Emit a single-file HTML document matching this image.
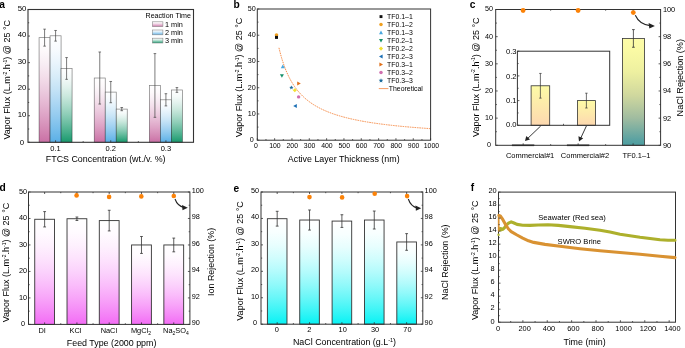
<!DOCTYPE html>
<html><head><meta charset="utf-8"><style>
html,body{margin:0;padding:0;background:#fff;width:685px;height:348px;overflow:hidden}
svg{display:block;will-change:transform}
text{font-family:"Liberation Sans", sans-serif}
</style></head><body>
<svg width="685" height="348" viewBox="0 0 685 348" font-family='"Liberation Sans", sans-serif'>
<defs><linearGradient id="g1" x1="0" y1="0" x2="0" y2="1"><stop offset="0.000" stop-color="#ffffff"/><stop offset="0.125" stop-color="#fdf9fb"/><stop offset="0.250" stop-color="#f8edf4"/><stop offset="0.375" stop-color="#f3deea"/><stop offset="0.500" stop-color="#ecccdf"/><stop offset="0.625" stop-color="#e5b8d3"/><stop offset="0.750" stop-color="#dda2c5"/><stop offset="0.875" stop-color="#d48ab5"/><stop offset="1.000" stop-color="#ca70a5"/></linearGradient><linearGradient id="g2" x1="0" y1="0" x2="0" y2="1"><stop offset="0.000" stop-color="#ffffff"/><stop offset="0.125" stop-color="#f8fbfe"/><stop offset="0.250" stop-color="#eaf5fc"/><stop offset="0.375" stop-color="#d9edf9"/><stop offset="0.500" stop-color="#c5e3f6"/><stop offset="0.625" stop-color="#add7f3"/><stop offset="0.750" stop-color="#94cbef"/><stop offset="0.875" stop-color="#78beeb"/><stop offset="1.000" stop-color="#5aafe6"/></linearGradient><linearGradient id="g3" x1="0" y1="0" x2="0" y2="1"><stop offset="0.000" stop-color="#ffffff"/><stop offset="0.125" stop-color="#f5faf9"/><stop offset="0.250" stop-color="#e2f2ed"/><stop offset="0.375" stop-color="#cae8dd"/><stop offset="0.500" stop-color="#addbcb"/><stop offset="0.625" stop-color="#8dcdb7"/><stop offset="0.750" stop-color="#69bda0"/><stop offset="0.875" stop-color="#42ac88"/><stop offset="1.000" stop-color="#18996d"/></linearGradient><linearGradient id="g4" x1="0" y1="0" x2="0" y2="1"><stop offset="0" stop-color="#fdfca8"/><stop offset="0.11" stop-color="#fafaa4"/><stop offset="0.31" stop-color="#eef0a0"/><stop offset="0.53" stop-color="#d0d89e"/><stop offset="0.745" stop-color="#a0bca0"/><stop offset="0.95" stop-color="#5aa2a2"/><stop offset="1" stop-color="#4c9ea0"/></linearGradient><linearGradient id="g5" x1="0" y1="0" x2="0" y2="1"><stop offset="0" stop-color="#fdfba6"/><stop offset="1" stop-color="#fdd8b0"/></linearGradient><linearGradient id="g6" x1="0" y1="0" x2="0" y2="1"><stop offset="0.000" stop-color="#ffffff"/><stop offset="0.125" stop-color="#fffbff"/><stop offset="0.250" stop-color="#fef1fe"/><stop offset="0.375" stop-color="#fde3fd"/><stop offset="0.500" stop-color="#fbd2fc"/><stop offset="0.625" stop-color="#fabdfb"/><stop offset="0.750" stop-color="#f8a5f9"/><stop offset="0.875" stop-color="#f58af7"/><stop offset="1.000" stop-color="#f36cf5"/></linearGradient><linearGradient id="g7" x1="0" y1="0" x2="0" y2="1"><stop offset="0.000" stop-color="#ffffff"/><stop offset="0.125" stop-color="#f8ffff"/><stop offset="0.250" stop-color="#e8fefe"/><stop offset="0.375" stop-color="#d0fdfd"/><stop offset="0.500" stop-color="#b3fbfc"/><stop offset="0.625" stop-color="#90f9fa"/><stop offset="0.750" stop-color="#68f7f8"/><stop offset="0.875" stop-color="#3af5f6"/><stop offset="1.000" stop-color="#08f2f4"/></linearGradient></defs>
<rect width="685" height="348" fill="#fff"/>
<text x="-0.70" y="8.00" font-size="10.2" text-anchor="start" fill="#000" font-weight="bold">a</text>
<rect x="39.08" y="37.65" width="11.00" height="104.65" fill="url(#g1)" stroke="rgba(0,0,0,0.5)" stroke-width="0.7"/>
<rect x="50.08" y="35.79" width="11.00" height="106.51" fill="url(#g2)" stroke="rgba(0,0,0,0.5)" stroke-width="0.7"/>
<rect x="61.08" y="68.46" width="11.00" height="73.84" fill="url(#g3)" stroke="rgba(0,0,0,0.5)" stroke-width="0.7"/>
<line x1="44.58" y1="29.15" x2="44.58" y2="46.15" stroke="#444" stroke-width="0.7"/>
<line x1="43.28" y1="29.15" x2="45.88" y2="29.15" stroke="#444" stroke-width="0.7"/>
<line x1="43.28" y1="46.15" x2="45.88" y2="46.15" stroke="#444" stroke-width="0.7"/>
<line x1="55.58" y1="30.48" x2="55.58" y2="41.11" stroke="#444" stroke-width="0.7"/>
<line x1="54.28" y1="30.48" x2="56.88" y2="30.48" stroke="#444" stroke-width="0.7"/>
<line x1="54.28" y1="41.11" x2="56.88" y2="41.11" stroke="#444" stroke-width="0.7"/>
<line x1="66.58" y1="57.57" x2="66.58" y2="79.35" stroke="#444" stroke-width="0.7"/>
<line x1="65.28" y1="57.57" x2="67.88" y2="57.57" stroke="#444" stroke-width="0.7"/>
<line x1="65.28" y1="79.35" x2="67.88" y2="79.35" stroke="#444" stroke-width="0.7"/>
<rect x="94.25" y="78.02" width="11.00" height="64.28" fill="url(#g1)" stroke="rgba(0,0,0,0.5)" stroke-width="0.7"/>
<rect x="105.25" y="92.10" width="11.00" height="50.20" fill="url(#g2)" stroke="rgba(0,0,0,0.5)" stroke-width="0.7"/>
<rect x="116.25" y="109.10" width="11.00" height="33.20" fill="url(#g3)" stroke="rgba(0,0,0,0.5)" stroke-width="0.7"/>
<line x1="99.75" y1="52.00" x2="99.75" y2="104.05" stroke="#444" stroke-width="0.7"/>
<line x1="98.45" y1="52.00" x2="101.05" y2="52.00" stroke="#444" stroke-width="0.7"/>
<line x1="98.45" y1="104.05" x2="101.05" y2="104.05" stroke="#444" stroke-width="0.7"/>
<line x1="110.75" y1="81.48" x2="110.75" y2="102.73" stroke="#444" stroke-width="0.7"/>
<line x1="109.45" y1="81.48" x2="112.05" y2="81.48" stroke="#444" stroke-width="0.7"/>
<line x1="109.45" y1="102.73" x2="112.05" y2="102.73" stroke="#444" stroke-width="0.7"/>
<line x1="121.75" y1="107.51" x2="121.75" y2="110.69" stroke="#444" stroke-width="0.7"/>
<line x1="120.45" y1="107.51" x2="123.05" y2="107.51" stroke="#444" stroke-width="0.7"/>
<line x1="120.45" y1="110.69" x2="123.05" y2="110.69" stroke="#444" stroke-width="0.7"/>
<rect x="149.42" y="85.46" width="11.00" height="56.84" fill="url(#g1)" stroke="rgba(0,0,0,0.5)" stroke-width="0.7"/>
<rect x="160.42" y="99.80" width="11.00" height="42.50" fill="url(#g2)" stroke="rgba(0,0,0,0.5)" stroke-width="0.7"/>
<rect x="171.42" y="89.98" width="11.00" height="52.32" fill="url(#g3)" stroke="rgba(0,0,0,0.5)" stroke-width="0.7"/>
<line x1="154.92" y1="53.59" x2="154.92" y2="117.33" stroke="#444" stroke-width="0.7"/>
<line x1="153.62" y1="53.59" x2="156.22" y2="53.59" stroke="#444" stroke-width="0.7"/>
<line x1="153.62" y1="117.33" x2="156.22" y2="117.33" stroke="#444" stroke-width="0.7"/>
<line x1="165.92" y1="93.70" x2="165.92" y2="105.91" stroke="#444" stroke-width="0.7"/>
<line x1="164.62" y1="93.70" x2="167.22" y2="93.70" stroke="#444" stroke-width="0.7"/>
<line x1="164.62" y1="105.91" x2="167.22" y2="105.91" stroke="#444" stroke-width="0.7"/>
<line x1="176.92" y1="87.59" x2="176.92" y2="92.37" stroke="#444" stroke-width="0.7"/>
<line x1="175.62" y1="87.59" x2="178.22" y2="87.59" stroke="#444" stroke-width="0.7"/>
<line x1="175.62" y1="92.37" x2="178.22" y2="92.37" stroke="#444" stroke-width="0.7"/>
<rect x="28.00" y="9.50" width="165.50" height="132.80" fill="none" stroke="#333333" stroke-width="1.1"/>
<line x1="28.00" y1="142.30" x2="30.00" y2="142.30" stroke="#333333" stroke-width="0.8"/>
<text x="22.00" y="144.60" font-size="7.8" text-anchor="middle" fill="#000">0</text>
<line x1="28.00" y1="115.74" x2="30.00" y2="115.74" stroke="#333333" stroke-width="0.8"/>
<text x="22.00" y="117.04" font-size="7.8" text-anchor="middle" fill="#000">10</text>
<line x1="28.00" y1="89.18" x2="30.00" y2="89.18" stroke="#333333" stroke-width="0.8"/>
<text x="22.00" y="90.48" font-size="7.8" text-anchor="middle" fill="#000">20</text>
<line x1="28.00" y1="62.62" x2="30.00" y2="62.62" stroke="#333333" stroke-width="0.8"/>
<text x="22.00" y="63.92" font-size="7.8" text-anchor="middle" fill="#000">30</text>
<line x1="28.00" y1="36.06" x2="30.00" y2="36.06" stroke="#333333" stroke-width="0.8"/>
<text x="22.00" y="37.36" font-size="7.8" text-anchor="middle" fill="#000">40</text>
<line x1="28.00" y1="9.50" x2="30.00" y2="9.50" stroke="#333333" stroke-width="0.8"/>
<text x="22.00" y="10.80" font-size="7.8" text-anchor="middle" fill="#000">50</text>
<line x1="28.00" y1="129.02" x2="29.20" y2="129.02" stroke="#333333" stroke-width="0.8"/>
<line x1="28.00" y1="102.46" x2="29.20" y2="102.46" stroke="#333333" stroke-width="0.8"/>
<line x1="28.00" y1="75.90" x2="29.20" y2="75.90" stroke="#333333" stroke-width="0.8"/>
<line x1="28.00" y1="49.34" x2="29.20" y2="49.34" stroke="#333333" stroke-width="0.8"/>
<line x1="28.00" y1="22.78" x2="29.20" y2="22.78" stroke="#333333" stroke-width="0.8"/>
<line x1="55.58" y1="142.30" x2="55.58" y2="140.30" stroke="#333333" stroke-width="0.8"/>
<text x="55.58" y="151.20" font-size="7.5" text-anchor="middle" fill="#000">0.1</text>
<line x1="110.75" y1="142.30" x2="110.75" y2="140.30" stroke="#333333" stroke-width="0.8"/>
<text x="110.75" y="151.20" font-size="7.5" text-anchor="middle" fill="#000">0.2</text>
<line x1="165.92" y1="142.30" x2="165.92" y2="140.30" stroke="#333333" stroke-width="0.8"/>
<text x="165.92" y="151.20" font-size="7.5" text-anchor="middle" fill="#000">0.3</text>
<line x1="83.17" y1="142.30" x2="83.17" y2="141.10" stroke="#333333" stroke-width="0.8"/>
<line x1="138.33" y1="142.30" x2="138.33" y2="141.10" stroke="#333333" stroke-width="0.8"/>
<text x="105.65" y="161.60" font-size="8.9" text-anchor="middle" fill="#000">FTCS Concentration (wt./v. %)</text>
<text x="10.40" y="139.50" font-size="9.0" text-anchor="start" fill="#000" transform="rotate(-90 10.4 139.5)">Vapor Flux (L.m<tspan font-size="5" dy="-3.2">-2</tspan><tspan dy="3.2">.h</tspan><tspan font-size="5" dy="-3.2">-1</tspan><tspan dy="3.2">) @ 25 °C</tspan></text>
<text x="190.90" y="17.60" font-size="7.1" text-anchor="end" fill="#000">Reaction Time</text>
<rect x="152.3" y="21.80" width="10.6" height="4.8" fill="url(#g1)" stroke="#8a8a8a" stroke-width="0.6"/>
<text x="165.00" y="26.70" font-size="7.3" text-anchor="start" fill="#000">1 min</text>
<rect x="152.3" y="30.00" width="10.6" height="4.8" fill="url(#g2)" stroke="#8a8a8a" stroke-width="0.6"/>
<text x="165.00" y="34.90" font-size="7.3" text-anchor="start" fill="#000">2 min</text>
<rect x="152.3" y="38.20" width="10.6" height="4.8" fill="url(#g3)" stroke="#8a8a8a" stroke-width="0.6"/>
<text x="165.00" y="43.10" font-size="7.3" text-anchor="start" fill="#000">3 min</text>
<text x="233.60" y="7.90" font-size="10.2" text-anchor="start" fill="#000" font-weight="bold">b</text>
<polyline points="278.96,47.84 279.83,51.39 280.70,54.68 281.56,57.73 282.43,60.58 283.30,63.23 284.16,65.71 285.03,68.04 285.89,70.23 286.76,72.28 287.63,74.23 288.49,76.06 289.36,77.79 290.23,79.43 291.09,80.99 291.96,82.47 292.83,83.88 293.69,85.22 294.56,86.50 295.43,87.72 296.29,88.89 297.16,90.00 298.03,91.07 298.89,92.09 299.76,93.08 300.62,94.02 301.49,94.92 302.36,95.79 303.22,96.63 304.09,97.44 304.96,98.22 305.82,98.97 306.69,99.69 307.56,100.39 308.42,101.06 309.29,101.71 310.16,102.35 311.02,102.96 311.89,103.55 312.76,104.12 313.62,104.68 314.49,105.21 315.36,105.74 316.22,106.24 317.09,106.73 317.96,107.21 318.82,107.68 319.69,108.13 320.55,108.57 321.42,109.00 322.29,109.41 323.15,109.82 324.02,110.21 324.89,110.60 325.75,110.97 326.62,111.34 327.49,111.69 328.35,112.04 329.22,112.38 330.09,112.71 330.95,113.03 331.82,113.35 332.69,113.66 333.55,113.96 334.42,114.25 335.29,114.54 336.15,114.83 337.02,115.10 337.88,115.37 338.75,115.63 339.62,115.89 340.48,116.15 341.35,116.39 342.22,116.64 343.08,116.88 343.95,117.11 344.82,117.34 345.68,117.56 346.55,117.78 347.42,118.00 348.28,118.21 349.15,118.42 350.02,118.62 350.88,118.82 351.75,119.02 352.62,119.21 353.48,119.40 354.35,119.58 355.21,119.77 356.08,119.94 356.95,120.12 357.81,120.29 358.68,120.46 359.55,120.63 360.41,120.80 361.28,120.96 362.15,121.12 363.01,121.27 363.88,121.43 364.75,121.58 365.61,121.73 366.48,121.87 367.35,122.02 368.21,122.16 369.08,122.30 369.95,122.44 370.81,122.57 371.68,122.71 372.54,122.84 373.41,122.97 374.28,123.10 375.14,123.22 376.01,123.35 376.88,123.47 377.74,123.59 378.61,123.71 379.48,123.82 380.34,123.94 381.21,124.05 382.08,124.16 382.94,124.28 383.81,124.38 384.68,124.49 385.54,124.60 386.41,124.70 387.28,124.81 388.14,124.91 389.01,125.01 389.87,125.11 390.74,125.21 391.61,125.30 392.47,125.40 393.34,125.49 394.21,125.59 395.07,125.68 395.94,125.77 396.81,125.86 397.67,125.95 398.54,126.03 399.41,126.12 400.27,126.21 401.14,126.29 402.01,126.37 402.87,126.46 403.74,126.54 404.61,126.62 405.47,126.70 406.34,126.77 407.20,126.85 408.07,126.93 408.94,127.01 409.80,127.08 410.67,127.15 411.54,127.23 412.40,127.30 413.27,127.37 414.14,127.44 415.00,127.51 415.87,127.58 416.74,127.65 417.60,127.72 418.47,127.79 419.34,127.85 420.20,127.92 421.07,127.98 421.94,128.05 422.80,128.11 423.67,128.17 424.53,128.24 425.40,128.30 426.27,128.36 427.13,128.42 428.00,128.48 428.87,128.54 429.73,128.60 430.60,128.65" fill="none" stroke="#f4823a" stroke-width="0.9" stroke-dasharray="1.6 0.8"/>
<circle cx="276.50" cy="35.00" r="1.8" fill="#f0a020"/>
<rect x="275.00" y="35.90" width="3.0" height="3.0" fill="#111111"/>
<polygon points="282.80,64.60 280.80,68.20 284.80,68.20" fill="#4aa8e0"/>
<polygon points="281.90,77.80 279.90,74.20 283.90,74.20" fill="#17906a"/>
<polygon points="300.80,83.60 297.20,81.60 297.20,85.60" fill="#e0701a"/>
<polygon points="291.40,85.40 291.98,86.80 293.49,86.92 292.34,87.91 292.69,89.38 291.40,88.59 290.11,89.38 290.46,87.91 289.31,86.92 290.82,86.80" fill="#1a6a9a"/>
<polygon points="294.8,88.2 296.8,90.2 294.8,92.2 292.8,90.2" fill="#f2e030"/>
<circle cx="298.60" cy="96.90" r="1.7" fill="#d070b0"/>
<polygon points="293.20,106.00 296.80,104.00 296.80,108.00" fill="#1a6fb5"/>
<rect x="257.30" y="9.00" width="173.30" height="131.20" fill="none" stroke="#333333" stroke-width="1.0"/>
<line x1="257.30" y1="140.20" x2="259.30" y2="140.20" stroke="#333333" stroke-width="0.8"/>
<text x="251.80" y="142.10" font-size="7.2" text-anchor="middle" fill="#000">0</text>
<line x1="257.30" y1="113.96" x2="259.30" y2="113.96" stroke="#333333" stroke-width="0.8"/>
<text x="251.80" y="115.86" font-size="7.2" text-anchor="middle" fill="#000">10</text>
<line x1="257.30" y1="87.72" x2="259.30" y2="87.72" stroke="#333333" stroke-width="0.8"/>
<text x="251.80" y="89.62" font-size="7.2" text-anchor="middle" fill="#000">20</text>
<line x1="257.30" y1="61.48" x2="259.30" y2="61.48" stroke="#333333" stroke-width="0.8"/>
<text x="251.80" y="63.38" font-size="7.2" text-anchor="middle" fill="#000">30</text>
<line x1="257.30" y1="35.24" x2="259.30" y2="35.24" stroke="#333333" stroke-width="0.8"/>
<text x="251.80" y="37.14" font-size="7.2" text-anchor="middle" fill="#000">40</text>
<line x1="257.30" y1="9.00" x2="259.30" y2="9.00" stroke="#333333" stroke-width="0.8"/>
<text x="251.80" y="10.90" font-size="7.2" text-anchor="middle" fill="#000">50</text>
<line x1="257.30" y1="127.08" x2="258.50" y2="127.08" stroke="#333333" stroke-width="0.8"/>
<line x1="257.30" y1="100.84" x2="258.50" y2="100.84" stroke="#333333" stroke-width="0.8"/>
<line x1="257.30" y1="74.60" x2="258.50" y2="74.60" stroke="#333333" stroke-width="0.8"/>
<line x1="257.30" y1="48.36" x2="258.50" y2="48.36" stroke="#333333" stroke-width="0.8"/>
<line x1="257.30" y1="22.12" x2="258.50" y2="22.12" stroke="#333333" stroke-width="0.8"/>
<line x1="257.30" y1="140.20" x2="257.30" y2="138.20" stroke="#333333" stroke-width="0.8"/>
<text x="256.00" y="147.90" font-size="6.9" text-anchor="middle" fill="#000">0</text>
<line x1="274.63" y1="140.20" x2="274.63" y2="138.20" stroke="#333333" stroke-width="0.8"/>
<text x="274.93" y="147.90" font-size="6.9" text-anchor="middle" fill="#000">100</text>
<line x1="291.96" y1="140.20" x2="291.96" y2="138.20" stroke="#333333" stroke-width="0.8"/>
<text x="292.26" y="147.90" font-size="6.9" text-anchor="middle" fill="#000">200</text>
<line x1="309.29" y1="140.20" x2="309.29" y2="138.20" stroke="#333333" stroke-width="0.8"/>
<text x="309.59" y="147.90" font-size="6.9" text-anchor="middle" fill="#000">300</text>
<line x1="326.62" y1="140.20" x2="326.62" y2="138.20" stroke="#333333" stroke-width="0.8"/>
<text x="326.92" y="147.90" font-size="6.9" text-anchor="middle" fill="#000">400</text>
<line x1="343.95" y1="140.20" x2="343.95" y2="138.20" stroke="#333333" stroke-width="0.8"/>
<text x="344.25" y="147.90" font-size="6.9" text-anchor="middle" fill="#000">500</text>
<line x1="361.28" y1="140.20" x2="361.28" y2="138.20" stroke="#333333" stroke-width="0.8"/>
<text x="361.58" y="147.90" font-size="6.9" text-anchor="middle" fill="#000">600</text>
<line x1="378.61" y1="140.20" x2="378.61" y2="138.20" stroke="#333333" stroke-width="0.8"/>
<text x="378.91" y="147.90" font-size="6.9" text-anchor="middle" fill="#000">700</text>
<line x1="395.94" y1="140.20" x2="395.94" y2="138.20" stroke="#333333" stroke-width="0.8"/>
<text x="396.24" y="147.90" font-size="6.9" text-anchor="middle" fill="#000">800</text>
<line x1="413.27" y1="140.20" x2="413.27" y2="138.20" stroke="#333333" stroke-width="0.8"/>
<text x="413.57" y="147.90" font-size="6.9" text-anchor="middle" fill="#000">900</text>
<line x1="430.60" y1="140.20" x2="430.60" y2="138.20" stroke="#333333" stroke-width="0.8"/>
<text x="431.40" y="147.90" font-size="6.9" text-anchor="middle" fill="#000">1000</text>
<line x1="265.97" y1="140.20" x2="265.97" y2="139.00" stroke="#333333" stroke-width="0.8"/>
<line x1="283.30" y1="140.20" x2="283.30" y2="139.00" stroke="#333333" stroke-width="0.8"/>
<line x1="300.62" y1="140.20" x2="300.62" y2="139.00" stroke="#333333" stroke-width="0.8"/>
<line x1="317.96" y1="140.20" x2="317.96" y2="139.00" stroke="#333333" stroke-width="0.8"/>
<line x1="335.29" y1="140.20" x2="335.29" y2="139.00" stroke="#333333" stroke-width="0.8"/>
<line x1="352.62" y1="140.20" x2="352.62" y2="139.00" stroke="#333333" stroke-width="0.8"/>
<line x1="369.95" y1="140.20" x2="369.95" y2="139.00" stroke="#333333" stroke-width="0.8"/>
<line x1="387.28" y1="140.20" x2="387.28" y2="139.00" stroke="#333333" stroke-width="0.8"/>
<line x1="404.61" y1="140.20" x2="404.61" y2="139.00" stroke="#333333" stroke-width="0.8"/>
<line x1="421.94" y1="140.20" x2="421.94" y2="139.00" stroke="#333333" stroke-width="0.8"/>
<text x="343.70" y="161.80" font-size="8.9" text-anchor="middle" fill="#000">Active Layer Thickness (nm)</text>
<text x="242.00" y="137.20" font-size="9.0" text-anchor="start" fill="#000" transform="rotate(-90 242.0 137.2)">Vapor Flux (L.m<tspan font-size="5" dy="-3.2">-2</tspan><tspan dy="3.2">.h</tspan><tspan font-size="5" dy="-3.2">-1</tspan><tspan dy="3.2">) @ 25 °C</tspan></text>
<rect x="379.55" y="15.15" width="2.9" height="2.9" fill="#111111"/>
<text x="387.10" y="19.10" font-size="6.9" text-anchor="start" fill="#000">TF0.1–1</text>
<circle cx="381.00" cy="24.60" r="1.75" fill="#f0a020"/>
<text x="387.10" y="27.10" font-size="6.9" text-anchor="start" fill="#000">TF0.1–2</text>
<polygon points="381.00,30.60 379.00,34.20 383.00,34.20" fill="#4aa8e0"/>
<text x="387.10" y="35.10" font-size="6.9" text-anchor="start" fill="#000">TF0.1–3</text>
<polygon points="381.00,42.60 379.00,39.00 383.00,39.00" fill="#17906a"/>
<text x="387.10" y="43.10" font-size="6.9" text-anchor="start" fill="#000">TF0.2–1</text>
<polygon points="381.0,46.5 383.1,48.6 381.0,50.7 378.9,48.6" fill="#f2e030"/>
<text x="387.10" y="51.10" font-size="6.9" text-anchor="start" fill="#000">TF0.2–2</text>
<polygon points="379.00,56.60 382.60,54.60 382.60,58.60" fill="#1a6fb5"/>
<text x="387.10" y="59.10" font-size="6.9" text-anchor="start" fill="#000">TF0.2–3</text>
<polygon points="383.00,64.60 379.40,62.60 379.40,66.60" fill="#e0701a"/>
<text x="387.10" y="67.10" font-size="6.9" text-anchor="start" fill="#000">TF0.3–1</text>
<circle cx="381.00" cy="72.60" r="1.75" fill="#d070b0"/>
<text x="387.10" y="75.10" font-size="6.9" text-anchor="start" fill="#000">TF0.3–2</text>
<polygon points="381.00,78.20 381.63,79.73 383.28,79.86 382.03,80.93 382.41,82.54 381.00,81.68 379.59,82.54 379.97,80.93 378.72,79.86 380.37,79.73" fill="#1a6a9a"/>
<text x="387.10" y="83.10" font-size="6.9" text-anchor="start" fill="#000">TF0.3–3</text>
<line x1="378.80" y1="88.60" x2="388.40" y2="88.60" stroke="#f4823a" stroke-width="0.8"/>
<text x="388.80" y="91.10" font-size="6.9" text-anchor="start" fill="#000">Theoretical</text>
<text x="469.80" y="8.00" font-size="10.2" text-anchor="start" fill="#000" font-weight="bold">c</text>
<line x1="511.90" y1="145.30" x2="534.30" y2="145.30" stroke="#222" stroke-width="1.6"/>
<line x1="566.90" y1="145.30" x2="589.30" y2="145.30" stroke="#222" stroke-width="1.6"/>
<rect x="622.40" y="38.56" width="22.10" height="106.74" fill="url(#g4)" stroke="#333" stroke-width="0.8"/>
<line x1="633.40" y1="29.60" x2="633.40" y2="47.25" stroke="#333" stroke-width="0.8"/>
<line x1="632.00" y1="29.60" x2="634.80" y2="29.60" stroke="#333" stroke-width="0.8"/>
<line x1="632.00" y1="47.25" x2="634.80" y2="47.25" stroke="#333" stroke-width="0.8"/>
<rect x="517.4" y="51.2" width="92.30" height="74.10" fill="#fff" stroke="none"/>
<rect x="531.10" y="85.78" width="18.60" height="39.52" fill="url(#g5)" stroke="#333" stroke-width="0.8"/>
<line x1="540.40" y1="73.43" x2="540.40" y2="98.13" stroke="#333" stroke-width="0.7"/>
<line x1="539.20" y1="73.43" x2="541.60" y2="73.43" stroke="#333" stroke-width="0.7"/>
<line x1="539.20" y1="98.13" x2="541.60" y2="98.13" stroke="#333" stroke-width="0.7"/>
<rect x="577.40" y="100.60" width="18.10" height="24.70" fill="url(#g5)" stroke="#333" stroke-width="0.8"/>
<line x1="586.40" y1="93.19" x2="586.40" y2="108.01" stroke="#333" stroke-width="0.7"/>
<line x1="585.20" y1="93.19" x2="587.60" y2="93.19" stroke="#333" stroke-width="0.7"/>
<line x1="585.20" y1="108.01" x2="587.60" y2="108.01" stroke="#333" stroke-width="0.7"/>
<rect x="517.40" y="51.20" width="92.30" height="74.10" fill="none" stroke="#333333" stroke-width="1.0"/>
<line x1="517.40" y1="125.30" x2="519.40" y2="125.30" stroke="#333333" stroke-width="0.8"/>
<text x="516.50" y="126.50" font-size="7.6" text-anchor="end" fill="#000">0.0</text>
<line x1="517.40" y1="100.60" x2="519.40" y2="100.60" stroke="#333333" stroke-width="0.8"/>
<text x="516.50" y="103.30" font-size="7.6" text-anchor="end" fill="#000">0.1</text>
<line x1="517.40" y1="75.90" x2="519.40" y2="75.90" stroke="#333333" stroke-width="0.8"/>
<text x="516.50" y="78.60" font-size="7.6" text-anchor="end" fill="#000">0.2</text>
<line x1="517.40" y1="51.20" x2="519.40" y2="51.20" stroke="#333333" stroke-width="0.8"/>
<text x="516.50" y="53.90" font-size="7.6" text-anchor="end" fill="#000">0.3</text>
<line x1="517.40" y1="112.95" x2="518.60" y2="112.95" stroke="#333333" stroke-width="0.8"/>
<line x1="517.40" y1="88.25" x2="518.60" y2="88.25" stroke="#333333" stroke-width="0.8"/>
<line x1="517.40" y1="63.55" x2="518.60" y2="63.55" stroke="#333333" stroke-width="0.8"/>
<line x1="563.50" y1="125.30" x2="563.50" y2="123.80" stroke="#333333" stroke-width="0.8"/>
<line x1="540.7" y1="126" x2="527.5" y2="138.6" stroke="#222" stroke-width="0.9"/>
<polygon points="525.0,141.0 526.3,135.9 530.0,139.6" fill="#222"/>
<line x1="586.4" y1="126" x2="580.5" y2="138.6" stroke="#222" stroke-width="0.9"/>
<polygon points="579.0,141.5 578.4,136.3 583.2,138.3" fill="#222"/>
<rect x="495.70" y="9.50" width="164.90" height="135.80" fill="none" stroke="#333333" stroke-width="1.0"/>
<line x1="495.70" y1="145.30" x2="497.70" y2="145.30" stroke="#333333" stroke-width="0.8"/>
<text x="489.10" y="147.20" font-size="7.2" text-anchor="middle" fill="#000">0</text>
<line x1="495.70" y1="118.14" x2="497.70" y2="118.14" stroke="#333333" stroke-width="0.8"/>
<text x="489.10" y="120.04" font-size="7.2" text-anchor="middle" fill="#000">10</text>
<line x1="495.70" y1="90.98" x2="497.70" y2="90.98" stroke="#333333" stroke-width="0.8"/>
<text x="489.10" y="92.88" font-size="7.2" text-anchor="middle" fill="#000">20</text>
<line x1="495.70" y1="63.82" x2="497.70" y2="63.82" stroke="#333333" stroke-width="0.8"/>
<text x="489.10" y="65.72" font-size="7.2" text-anchor="middle" fill="#000">30</text>
<line x1="495.70" y1="36.66" x2="497.70" y2="36.66" stroke="#333333" stroke-width="0.8"/>
<text x="489.10" y="38.56" font-size="7.2" text-anchor="middle" fill="#000">40</text>
<line x1="495.70" y1="9.50" x2="497.70" y2="9.50" stroke="#333333" stroke-width="0.8"/>
<text x="489.10" y="11.40" font-size="7.2" text-anchor="middle" fill="#000">50</text>
<line x1="495.70" y1="131.72" x2="496.90" y2="131.72" stroke="#333333" stroke-width="0.8"/>
<line x1="495.70" y1="104.56" x2="496.90" y2="104.56" stroke="#333333" stroke-width="0.8"/>
<line x1="495.70" y1="77.40" x2="496.90" y2="77.40" stroke="#333333" stroke-width="0.8"/>
<line x1="495.70" y1="50.24" x2="496.90" y2="50.24" stroke="#333333" stroke-width="0.8"/>
<line x1="495.70" y1="23.08" x2="496.90" y2="23.08" stroke="#333333" stroke-width="0.8"/>
<line x1="660.60" y1="145.30" x2="658.60" y2="145.30" stroke="#333333" stroke-width="0.8"/>
<text x="662.90" y="147.70" font-size="7.4" text-anchor="start" fill="#000">90</text>
<line x1="660.60" y1="118.14" x2="658.60" y2="118.14" stroke="#333333" stroke-width="0.8"/>
<text x="662.90" y="120.54" font-size="7.4" text-anchor="start" fill="#000">92</text>
<line x1="660.60" y1="90.98" x2="658.60" y2="90.98" stroke="#333333" stroke-width="0.8"/>
<text x="662.90" y="93.38" font-size="7.4" text-anchor="start" fill="#000">94</text>
<line x1="660.60" y1="63.82" x2="658.60" y2="63.82" stroke="#333333" stroke-width="0.8"/>
<text x="662.90" y="66.22" font-size="7.4" text-anchor="start" fill="#000">96</text>
<line x1="660.60" y1="36.66" x2="658.60" y2="36.66" stroke="#333333" stroke-width="0.8"/>
<text x="662.90" y="39.06" font-size="7.4" text-anchor="start" fill="#000">98</text>
<line x1="660.60" y1="9.50" x2="658.60" y2="9.50" stroke="#333333" stroke-width="0.8"/>
<text x="662.90" y="11.90" font-size="7.4" text-anchor="start" fill="#000">100</text>
<line x1="660.60" y1="131.72" x2="659.40" y2="131.72" stroke="#333333" stroke-width="0.8"/>
<line x1="660.60" y1="104.56" x2="659.40" y2="104.56" stroke="#333333" stroke-width="0.8"/>
<line x1="660.60" y1="77.40" x2="659.40" y2="77.40" stroke="#333333" stroke-width="0.8"/>
<line x1="660.60" y1="50.24" x2="659.40" y2="50.24" stroke="#333333" stroke-width="0.8"/>
<line x1="660.60" y1="23.08" x2="659.40" y2="23.08" stroke="#333333" stroke-width="0.8"/>
<line x1="523.18" y1="145.30" x2="523.18" y2="143.30" stroke="#333333" stroke-width="0.8"/>
<line x1="523.18" y1="9.50" x2="523.18" y2="11.50" stroke="#333333" stroke-width="0.8"/>
<text x="530.08" y="158.30" font-size="7.5" text-anchor="middle" fill="#000">Commercial#1</text>
<line x1="578.15" y1="145.30" x2="578.15" y2="143.30" stroke="#333333" stroke-width="0.8"/>
<line x1="578.15" y1="9.50" x2="578.15" y2="11.50" stroke="#333333" stroke-width="0.8"/>
<text x="585.05" y="158.30" font-size="7.5" text-anchor="middle" fill="#000">Commercial#2</text>
<line x1="633.12" y1="145.30" x2="633.12" y2="143.30" stroke="#333333" stroke-width="0.8"/>
<line x1="633.12" y1="9.50" x2="633.12" y2="11.50" stroke="#333333" stroke-width="0.8"/>
<text x="636.42" y="158.30" font-size="7.5" text-anchor="middle" fill="#000">TF0.1–1</text>
<line x1="550.67" y1="145.30" x2="550.67" y2="144.10" stroke="#333333" stroke-width="0.8"/>
<line x1="550.67" y1="9.50" x2="550.67" y2="10.70" stroke="#333333" stroke-width="0.8"/>
<line x1="605.63" y1="145.30" x2="605.63" y2="144.10" stroke="#333333" stroke-width="0.8"/>
<line x1="605.63" y1="9.50" x2="605.63" y2="10.70" stroke="#333333" stroke-width="0.8"/>
<circle cx="523.10" cy="10.50" r="2.4" fill="#fb8208"/>
<circle cx="578.10" cy="10.50" r="2.4" fill="#fb8208"/>
<circle cx="633.30" cy="12.60" r="2.4" fill="#fb8208"/>
<path d="M635.3,15.3 Q639.5,24.5 650.0,25.6" fill="none" stroke="#222" stroke-width="1.1"/>
<polygon points="654.9,26.1 648.6,23.0 649.3,28.4" fill="#222"/>
<text x="478.70" y="136.90" font-size="9.0" text-anchor="start" fill="#000" transform="rotate(-90 478.7 136.9)">Vapor Flux (L.m<tspan font-size="5" dy="-3.2">-2</tspan><tspan dy="3.2">.h</tspan><tspan font-size="5" dy="-3.2">-1</tspan><tspan dy="3.2">) @ 25 °C</tspan></text>
<text x="682.80" y="116.40" font-size="9.1" text-anchor="start" fill="#000" transform="rotate(-90 682.8 116.4)">NaCl Rejection (%)</text>
<text x="-0.60" y="190.90" font-size="10.2" text-anchor="start" fill="#000" font-weight="bold">d</text>
<rect x="34.74" y="219.27" width="19.80" height="105.13" fill="url(#g6)" stroke="#333" stroke-width="0.9"/>
<line x1="44.64" y1="211.60" x2="44.64" y2="226.95" stroke="#333" stroke-width="0.8"/>
<line x1="43.24" y1="211.60" x2="46.04" y2="211.60" stroke="#333" stroke-width="0.8"/>
<line x1="43.24" y1="226.95" x2="46.04" y2="226.95" stroke="#333" stroke-width="0.8"/>
<rect x="67.02" y="218.74" width="19.80" height="105.66" fill="url(#g6)" stroke="#333" stroke-width="0.9"/>
<line x1="76.92" y1="217.02" x2="76.92" y2="220.47" stroke="#333" stroke-width="0.8"/>
<line x1="75.52" y1="217.02" x2="78.32" y2="217.02" stroke="#333" stroke-width="0.8"/>
<line x1="75.52" y1="220.47" x2="78.32" y2="220.47" stroke="#333" stroke-width="0.8"/>
<rect x="99.30" y="220.60" width="19.80" height="103.80" fill="url(#g6)" stroke="#333" stroke-width="0.9"/>
<line x1="109.20" y1="210.27" x2="109.20" y2="230.93" stroke="#333" stroke-width="0.8"/>
<line x1="107.80" y1="210.27" x2="110.60" y2="210.27" stroke="#333" stroke-width="0.8"/>
<line x1="107.80" y1="230.93" x2="110.60" y2="230.93" stroke="#333" stroke-width="0.8"/>
<rect x="131.58" y="244.96" width="19.80" height="79.44" fill="url(#g6)" stroke="#333" stroke-width="0.9"/>
<line x1="141.48" y1="236.49" x2="141.48" y2="253.43" stroke="#333" stroke-width="0.8"/>
<line x1="140.08" y1="236.49" x2="142.88" y2="236.49" stroke="#333" stroke-width="0.8"/>
<line x1="140.08" y1="253.43" x2="142.88" y2="253.43" stroke="#333" stroke-width="0.8"/>
<rect x="163.86" y="244.96" width="19.80" height="79.44" fill="url(#g6)" stroke="#333" stroke-width="0.9"/>
<line x1="173.76" y1="238.08" x2="173.76" y2="251.84" stroke="#333" stroke-width="0.8"/>
<line x1="172.36" y1="238.08" x2="175.16" y2="238.08" stroke="#333" stroke-width="0.8"/>
<line x1="172.36" y1="251.84" x2="175.16" y2="251.84" stroke="#333" stroke-width="0.8"/>
<rect x="28.50" y="192.00" width="161.40" height="132.40" fill="none" stroke="#333333" stroke-width="1.0"/>
<line x1="28.50" y1="324.40" x2="30.50" y2="324.40" stroke="#333333" stroke-width="0.8"/>
<text x="23.00" y="326.30" font-size="7.3" text-anchor="middle" fill="#000">0</text>
<line x1="28.50" y1="297.92" x2="30.50" y2="297.92" stroke="#333333" stroke-width="0.8"/>
<text x="23.00" y="299.82" font-size="7.3" text-anchor="middle" fill="#000">10</text>
<line x1="28.50" y1="271.44" x2="30.50" y2="271.44" stroke="#333333" stroke-width="0.8"/>
<text x="23.00" y="273.34" font-size="7.3" text-anchor="middle" fill="#000">20</text>
<line x1="28.50" y1="244.96" x2="30.50" y2="244.96" stroke="#333333" stroke-width="0.8"/>
<text x="23.00" y="246.86" font-size="7.3" text-anchor="middle" fill="#000">30</text>
<line x1="28.50" y1="218.48" x2="30.50" y2="218.48" stroke="#333333" stroke-width="0.8"/>
<text x="23.00" y="220.38" font-size="7.3" text-anchor="middle" fill="#000">40</text>
<line x1="28.50" y1="192.00" x2="30.50" y2="192.00" stroke="#333333" stroke-width="0.8"/>
<text x="23.00" y="193.90" font-size="7.3" text-anchor="middle" fill="#000">50</text>
<line x1="28.50" y1="311.16" x2="29.70" y2="311.16" stroke="#333333" stroke-width="0.8"/>
<line x1="28.50" y1="284.68" x2="29.70" y2="284.68" stroke="#333333" stroke-width="0.8"/>
<line x1="28.50" y1="258.20" x2="29.70" y2="258.20" stroke="#333333" stroke-width="0.8"/>
<line x1="28.50" y1="231.72" x2="29.70" y2="231.72" stroke="#333333" stroke-width="0.8"/>
<line x1="28.50" y1="205.24" x2="29.70" y2="205.24" stroke="#333333" stroke-width="0.8"/>
<line x1="189.90" y1="324.40" x2="187.90" y2="324.40" stroke="#333333" stroke-width="0.8"/>
<text x="191.70" y="325.40" font-size="7.3" text-anchor="start" fill="#000">90</text>
<line x1="189.90" y1="297.92" x2="187.90" y2="297.92" stroke="#333333" stroke-width="0.8"/>
<text x="191.70" y="298.92" font-size="7.3" text-anchor="start" fill="#000">92</text>
<line x1="189.90" y1="271.44" x2="187.90" y2="271.44" stroke="#333333" stroke-width="0.8"/>
<text x="191.70" y="272.44" font-size="7.3" text-anchor="start" fill="#000">94</text>
<line x1="189.90" y1="244.96" x2="187.90" y2="244.96" stroke="#333333" stroke-width="0.8"/>
<text x="191.70" y="245.96" font-size="7.3" text-anchor="start" fill="#000">96</text>
<line x1="189.90" y1="218.48" x2="187.90" y2="218.48" stroke="#333333" stroke-width="0.8"/>
<text x="191.70" y="219.48" font-size="7.3" text-anchor="start" fill="#000">98</text>
<line x1="189.90" y1="192.00" x2="187.90" y2="192.00" stroke="#333333" stroke-width="0.8"/>
<text x="191.70" y="193.00" font-size="7.3" text-anchor="start" fill="#000">100</text>
<line x1="189.90" y1="311.16" x2="188.70" y2="311.16" stroke="#333333" stroke-width="0.8"/>
<line x1="189.90" y1="284.68" x2="188.70" y2="284.68" stroke="#333333" stroke-width="0.8"/>
<line x1="189.90" y1="258.20" x2="188.70" y2="258.20" stroke="#333333" stroke-width="0.8"/>
<line x1="189.90" y1="231.72" x2="188.70" y2="231.72" stroke="#333333" stroke-width="0.8"/>
<line x1="189.90" y1="205.24" x2="188.70" y2="205.24" stroke="#333333" stroke-width="0.8"/>
<line x1="44.64" y1="324.40" x2="44.64" y2="322.40" stroke="#333333" stroke-width="0.8"/>
<line x1="44.64" y1="192.00" x2="44.64" y2="194.00" stroke="#333333" stroke-width="0.8"/>
<text x="42.24" y="333.00" font-size="7.4" text-anchor="middle" fill="#000">DI</text>
<line x1="76.92" y1="324.40" x2="76.92" y2="322.40" stroke="#333333" stroke-width="0.8"/>
<line x1="76.92" y1="192.00" x2="76.92" y2="194.00" stroke="#333333" stroke-width="0.8"/>
<text x="75.52" y="333.00" font-size="7.4" text-anchor="middle" fill="#000">KCl</text>
<line x1="109.20" y1="324.40" x2="109.20" y2="322.40" stroke="#333333" stroke-width="0.8"/>
<line x1="109.20" y1="192.00" x2="109.20" y2="194.00" stroke="#333333" stroke-width="0.8"/>
<text x="108.90" y="333.00" font-size="7.4" text-anchor="middle" fill="#000">NaCl</text>
<line x1="141.48" y1="324.40" x2="141.48" y2="322.40" stroke="#333333" stroke-width="0.8"/>
<line x1="141.48" y1="192.00" x2="141.48" y2="194.00" stroke="#333333" stroke-width="0.8"/>
<text x="140.98" y="333.00" font-size="7.4" text-anchor="middle" fill="#000">MgCl<tspan font-size="5" dy="1.8">2</tspan></text>
<line x1="173.76" y1="324.40" x2="173.76" y2="322.40" stroke="#333333" stroke-width="0.8"/>
<line x1="173.76" y1="192.00" x2="173.76" y2="194.00" stroke="#333333" stroke-width="0.8"/>
<text x="175.96" y="333.00" font-size="7.4" text-anchor="middle" fill="#000">Na<tspan font-size="5" dy="1.8">2</tspan><tspan dy="-1.8">SO</tspan><tspan font-size="5" dy="1.8">4</tspan></text>
<line x1="60.78" y1="324.40" x2="60.78" y2="323.20" stroke="#333333" stroke-width="0.8"/>
<line x1="60.78" y1="192.00" x2="60.78" y2="193.20" stroke="#333333" stroke-width="0.8"/>
<line x1="93.06" y1="324.40" x2="93.06" y2="323.20" stroke="#333333" stroke-width="0.8"/>
<line x1="93.06" y1="192.00" x2="93.06" y2="193.20" stroke="#333333" stroke-width="0.8"/>
<line x1="125.34" y1="324.40" x2="125.34" y2="323.20" stroke="#333333" stroke-width="0.8"/>
<line x1="125.34" y1="192.00" x2="125.34" y2="193.20" stroke="#333333" stroke-width="0.8"/>
<line x1="157.62" y1="324.40" x2="157.62" y2="323.20" stroke="#333333" stroke-width="0.8"/>
<line x1="157.62" y1="192.00" x2="157.62" y2="193.20" stroke="#333333" stroke-width="0.8"/>
<circle cx="76.60" cy="195.40" r="2.3" fill="#fb8208"/>
<circle cx="109.10" cy="196.90" r="2.3" fill="#fb8208"/>
<circle cx="141.30" cy="196.40" r="2.3" fill="#fb8208"/>
<circle cx="173.80" cy="196.00" r="2.3" fill="#fb8208"/>
<path d="M175.0,199.0 Q177.5,206.0 184.0,207.4" fill="none" stroke="#222" stroke-width="1.1"/>
<polygon points="187.8,207.7 182.0,204.9 182.5,210.2" fill="#222"/>
<text x="111.60" y="345.70" font-size="8.9" text-anchor="middle" fill="#000">Feed Type (2000 ppm)</text>
<text x="9.50" y="322.30" font-size="9.0" text-anchor="start" fill="#000" transform="rotate(-90 9.5 322.3)">Vapor Flux (L.m<tspan font-size="5" dy="-3.2">-2</tspan><tspan dy="3.2">.h</tspan><tspan font-size="5" dy="-3.2">-1</tspan><tspan dy="3.2">) @ 25 °C</tspan></text>
<text x="214.00" y="295.90" font-size="8.9" text-anchor="start" fill="#000" transform="rotate(-90 214.0 295.9)">Ion Rejection (%)</text>
<text x="233.40" y="191.70" font-size="10.2" text-anchor="start" fill="#000" font-weight="bold">e</text>
<rect x="267.38" y="218.70" width="19.60" height="105.50" fill="url(#g7)" stroke="#333" stroke-width="0.9"/>
<line x1="277.18" y1="211.30" x2="277.18" y2="226.11" stroke="#333" stroke-width="0.8"/>
<line x1="275.78" y1="211.30" x2="278.58" y2="211.30" stroke="#333" stroke-width="0.8"/>
<line x1="275.78" y1="226.11" x2="278.58" y2="226.11" stroke="#333" stroke-width="0.8"/>
<rect x="299.74" y="220.03" width="19.60" height="104.17" fill="url(#g7)" stroke="#333" stroke-width="0.9"/>
<line x1="309.54" y1="209.98" x2="309.54" y2="230.07" stroke="#333" stroke-width="0.8"/>
<line x1="308.14" y1="209.98" x2="310.94" y2="209.98" stroke="#333" stroke-width="0.8"/>
<line x1="308.14" y1="230.07" x2="310.94" y2="230.07" stroke="#333" stroke-width="0.8"/>
<rect x="332.10" y="221.08" width="19.60" height="103.12" fill="url(#g7)" stroke="#333" stroke-width="0.9"/>
<line x1="341.90" y1="214.74" x2="341.90" y2="227.43" stroke="#333" stroke-width="0.8"/>
<line x1="340.50" y1="214.74" x2="343.30" y2="214.74" stroke="#333" stroke-width="0.8"/>
<line x1="340.50" y1="227.43" x2="343.30" y2="227.43" stroke="#333" stroke-width="0.8"/>
<rect x="364.46" y="220.03" width="19.60" height="104.17" fill="url(#g7)" stroke="#333" stroke-width="0.9"/>
<line x1="374.26" y1="211.04" x2="374.26" y2="229.02" stroke="#333" stroke-width="0.8"/>
<line x1="372.86" y1="211.04" x2="375.66" y2="211.04" stroke="#333" stroke-width="0.8"/>
<line x1="372.86" y1="229.02" x2="375.66" y2="229.02" stroke="#333" stroke-width="0.8"/>
<rect x="396.82" y="241.97" width="19.60" height="82.23" fill="url(#g7)" stroke="#333" stroke-width="0.9"/>
<line x1="406.62" y1="233.64" x2="406.62" y2="250.30" stroke="#333" stroke-width="0.8"/>
<line x1="405.22" y1="233.64" x2="408.02" y2="233.64" stroke="#333" stroke-width="0.8"/>
<line x1="405.22" y1="250.30" x2="408.02" y2="250.30" stroke="#333" stroke-width="0.8"/>
<rect x="261.00" y="192.00" width="161.80" height="132.20" fill="none" stroke="#333333" stroke-width="1.0"/>
<line x1="261.00" y1="324.20" x2="263.00" y2="324.20" stroke="#333333" stroke-width="0.8"/>
<text x="255.00" y="325.10" font-size="7.3" text-anchor="middle" fill="#000">0</text>
<line x1="261.00" y1="297.76" x2="263.00" y2="297.76" stroke="#333333" stroke-width="0.8"/>
<text x="255.00" y="298.66" font-size="7.3" text-anchor="middle" fill="#000">10</text>
<line x1="261.00" y1="271.32" x2="263.00" y2="271.32" stroke="#333333" stroke-width="0.8"/>
<text x="255.00" y="272.22" font-size="7.3" text-anchor="middle" fill="#000">20</text>
<line x1="261.00" y1="244.88" x2="263.00" y2="244.88" stroke="#333333" stroke-width="0.8"/>
<text x="255.00" y="245.78" font-size="7.3" text-anchor="middle" fill="#000">30</text>
<line x1="261.00" y1="218.44" x2="263.00" y2="218.44" stroke="#333333" stroke-width="0.8"/>
<text x="255.00" y="219.34" font-size="7.3" text-anchor="middle" fill="#000">40</text>
<line x1="261.00" y1="192.00" x2="263.00" y2="192.00" stroke="#333333" stroke-width="0.8"/>
<text x="255.00" y="192.90" font-size="7.3" text-anchor="middle" fill="#000">50</text>
<line x1="261.00" y1="310.98" x2="262.20" y2="310.98" stroke="#333333" stroke-width="0.8"/>
<line x1="261.00" y1="284.54" x2="262.20" y2="284.54" stroke="#333333" stroke-width="0.8"/>
<line x1="261.00" y1="258.10" x2="262.20" y2="258.10" stroke="#333333" stroke-width="0.8"/>
<line x1="261.00" y1="231.66" x2="262.20" y2="231.66" stroke="#333333" stroke-width="0.8"/>
<line x1="261.00" y1="205.22" x2="262.20" y2="205.22" stroke="#333333" stroke-width="0.8"/>
<line x1="422.80" y1="324.20" x2="420.80" y2="324.20" stroke="#333333" stroke-width="0.8"/>
<text x="424.60" y="325.20" font-size="7.3" text-anchor="start" fill="#000">90</text>
<line x1="422.80" y1="297.76" x2="420.80" y2="297.76" stroke="#333333" stroke-width="0.8"/>
<text x="424.60" y="298.76" font-size="7.3" text-anchor="start" fill="#000">92</text>
<line x1="422.80" y1="271.32" x2="420.80" y2="271.32" stroke="#333333" stroke-width="0.8"/>
<text x="424.60" y="272.32" font-size="7.3" text-anchor="start" fill="#000">94</text>
<line x1="422.80" y1="244.88" x2="420.80" y2="244.88" stroke="#333333" stroke-width="0.8"/>
<text x="424.60" y="245.88" font-size="7.3" text-anchor="start" fill="#000">96</text>
<line x1="422.80" y1="218.44" x2="420.80" y2="218.44" stroke="#333333" stroke-width="0.8"/>
<text x="424.60" y="219.44" font-size="7.3" text-anchor="start" fill="#000">98</text>
<line x1="422.80" y1="192.00" x2="420.80" y2="192.00" stroke="#333333" stroke-width="0.8"/>
<text x="424.60" y="193.00" font-size="7.3" text-anchor="start" fill="#000">100</text>
<line x1="422.80" y1="310.98" x2="421.60" y2="310.98" stroke="#333333" stroke-width="0.8"/>
<line x1="422.80" y1="284.54" x2="421.60" y2="284.54" stroke="#333333" stroke-width="0.8"/>
<line x1="422.80" y1="258.10" x2="421.60" y2="258.10" stroke="#333333" stroke-width="0.8"/>
<line x1="422.80" y1="231.66" x2="421.60" y2="231.66" stroke="#333333" stroke-width="0.8"/>
<line x1="422.80" y1="205.22" x2="421.60" y2="205.22" stroke="#333333" stroke-width="0.8"/>
<line x1="277.18" y1="324.20" x2="277.18" y2="322.20" stroke="#333333" stroke-width="0.8"/>
<line x1="277.18" y1="192.00" x2="277.18" y2="194.00" stroke="#333333" stroke-width="0.8"/>
<text x="276.88" y="332.40" font-size="7.4" text-anchor="middle" fill="#000">0</text>
<line x1="309.54" y1="324.20" x2="309.54" y2="322.20" stroke="#333333" stroke-width="0.8"/>
<line x1="309.54" y1="192.00" x2="309.54" y2="194.00" stroke="#333333" stroke-width="0.8"/>
<text x="309.24" y="332.40" font-size="7.4" text-anchor="middle" fill="#000">2</text>
<line x1="341.90" y1="324.20" x2="341.90" y2="322.20" stroke="#333333" stroke-width="0.8"/>
<line x1="341.90" y1="192.00" x2="341.90" y2="194.00" stroke="#333333" stroke-width="0.8"/>
<text x="342.70" y="332.40" font-size="7.4" text-anchor="middle" fill="#000">10</text>
<line x1="374.26" y1="324.20" x2="374.26" y2="322.20" stroke="#333333" stroke-width="0.8"/>
<line x1="374.26" y1="192.00" x2="374.26" y2="194.00" stroke="#333333" stroke-width="0.8"/>
<text x="375.06" y="332.40" font-size="7.4" text-anchor="middle" fill="#000">30</text>
<line x1="406.62" y1="324.20" x2="406.62" y2="322.20" stroke="#333333" stroke-width="0.8"/>
<line x1="406.62" y1="192.00" x2="406.62" y2="194.00" stroke="#333333" stroke-width="0.8"/>
<text x="407.42" y="332.40" font-size="7.4" text-anchor="middle" fill="#000">70</text>
<line x1="293.36" y1="324.20" x2="293.36" y2="323.00" stroke="#333333" stroke-width="0.8"/>
<line x1="293.36" y1="192.00" x2="293.36" y2="193.20" stroke="#333333" stroke-width="0.8"/>
<line x1="325.72" y1="324.20" x2="325.72" y2="323.00" stroke="#333333" stroke-width="0.8"/>
<line x1="325.72" y1="192.00" x2="325.72" y2="193.20" stroke="#333333" stroke-width="0.8"/>
<line x1="358.08" y1="324.20" x2="358.08" y2="323.00" stroke="#333333" stroke-width="0.8"/>
<line x1="358.08" y1="192.00" x2="358.08" y2="193.20" stroke="#333333" stroke-width="0.8"/>
<line x1="390.44" y1="324.20" x2="390.44" y2="323.00" stroke="#333333" stroke-width="0.8"/>
<line x1="390.44" y1="192.00" x2="390.44" y2="193.20" stroke="#333333" stroke-width="0.8"/>
<circle cx="309.50" cy="197.10" r="2.3" fill="#fb8208"/>
<circle cx="342.10" cy="197.40" r="2.3" fill="#fb8208"/>
<circle cx="374.70" cy="193.70" r="2.3" fill="#fb8208"/>
<circle cx="407.10" cy="196.10" r="2.3" fill="#fb8208"/>
<path d="M408.3,199.0 Q410.8,206.5 417.4,208.0" fill="none" stroke="#222" stroke-width="1.1"/>
<polygon points="421.2,208.3 415.4,205.5 415.9,210.8" fill="#222"/>
<text x="344.50" y="345.40" font-size="8.9" text-anchor="middle" fill="#000">NaCl Concentration (g.L<tspan font-size="5.5" dy="-3">-1</tspan><tspan dy="3">)</tspan></text>
<text x="243.20" y="320.70" font-size="9.0" text-anchor="start" fill="#000" transform="rotate(-90 243.2 320.7)">Vapor Flux (L.m<tspan font-size="5" dy="-3.2">-2</tspan><tspan dy="3.2">.h</tspan><tspan font-size="5" dy="-3.2">-1</tspan><tspan dy="3.2">) @ 25 °C</tspan></text>
<text x="448.40" y="299.90" font-size="8.9" text-anchor="start" fill="#000" transform="rotate(-90 448.4 299.9)">NaCl Rejection (%)</text>
<text x="470.80" y="190.90" font-size="10.2" text-anchor="start" fill="#000" font-weight="bold">f</text>
<rect x="498.50" y="192.10" width="177.00" height="130.10" fill="none" stroke="#333333" stroke-width="1.0"/>
<polyline points="500.0,228.8 501.5,229.6 503.0,229.2 504.6,227.6 506.3,225.2 508.5,223.2 511.2,221.9 514.0,223.0 517.0,224.4 522.7,225.3 530.0,225.4 538.2,225.0 548.0,224.8 558.3,225.4 570.0,226.6 585.0,228.3 600.0,230.2 610.0,232.0 620.0,234.3 640.0,237.3 660.0,239.8 668.0,240.3 675.0,240.3" fill="none" stroke="#adb02c" stroke-width="3.1" stroke-linejoin="round" stroke-linecap="round"/>
<circle cx="500.6" cy="229.3" r="2.2" fill="#adb02c"/>
<circle cx="498.6" cy="234.7" r="1.3" fill="#b8bc40"/>
<polyline points="498.9,215.4 500.3,215.9 502.2,218.6 504.0,221.8 505.8,225.0 508.5,229.0 511.2,231.6 517.0,235.0 522.7,238.1 528.5,240.8 533.7,242.4 545.0,244.4 560.0,246.3 580.0,248.7 600.0,250.7 620.0,252.5 640.0,254.3 660.0,256.2 675.0,257.6" fill="none" stroke="#d99232" stroke-width="3.1" stroke-linejoin="round" stroke-linecap="round"/>
<line x1="498.7" y1="216" x2="498.7" y2="231" stroke="#d99232" stroke-width="1.7" stroke-linecap="round"/>
<line x1="498.50" y1="322.20" x2="500.50" y2="322.20" stroke="#333333" stroke-width="0.8"/>
<text x="492.60" y="323.50" font-size="7.4" text-anchor="middle" fill="#000">0</text>
<line x1="498.50" y1="309.19" x2="500.50" y2="309.19" stroke="#333333" stroke-width="0.8"/>
<text x="492.60" y="310.49" font-size="7.4" text-anchor="middle" fill="#000">2</text>
<line x1="498.50" y1="296.18" x2="500.50" y2="296.18" stroke="#333333" stroke-width="0.8"/>
<text x="492.60" y="297.48" font-size="7.4" text-anchor="middle" fill="#000">4</text>
<line x1="498.50" y1="283.17" x2="500.50" y2="283.17" stroke="#333333" stroke-width="0.8"/>
<text x="492.60" y="284.47" font-size="7.4" text-anchor="middle" fill="#000">6</text>
<line x1="498.50" y1="270.16" x2="500.50" y2="270.16" stroke="#333333" stroke-width="0.8"/>
<text x="492.60" y="271.46" font-size="7.4" text-anchor="middle" fill="#000">8</text>
<line x1="498.50" y1="257.15" x2="500.50" y2="257.15" stroke="#333333" stroke-width="0.8"/>
<text x="492.60" y="258.45" font-size="7.4" text-anchor="middle" fill="#000">10</text>
<line x1="498.50" y1="244.14" x2="500.50" y2="244.14" stroke="#333333" stroke-width="0.8"/>
<text x="492.60" y="245.44" font-size="7.4" text-anchor="middle" fill="#000">12</text>
<line x1="498.50" y1="231.13" x2="500.50" y2="231.13" stroke="#333333" stroke-width="0.8"/>
<text x="492.60" y="232.43" font-size="7.4" text-anchor="middle" fill="#000">14</text>
<line x1="498.50" y1="218.12" x2="500.50" y2="218.12" stroke="#333333" stroke-width="0.8"/>
<text x="492.60" y="219.42" font-size="7.4" text-anchor="middle" fill="#000">16</text>
<line x1="498.50" y1="205.11" x2="500.50" y2="205.11" stroke="#333333" stroke-width="0.8"/>
<text x="492.60" y="206.41" font-size="7.4" text-anchor="middle" fill="#000">18</text>
<line x1="498.50" y1="192.10" x2="500.50" y2="192.10" stroke="#333333" stroke-width="0.8"/>
<text x="492.60" y="193.40" font-size="7.4" text-anchor="middle" fill="#000">20</text>
<line x1="498.50" y1="315.69" x2="499.70" y2="315.69" stroke="#333333" stroke-width="0.8"/>
<line x1="498.50" y1="302.69" x2="499.70" y2="302.69" stroke="#333333" stroke-width="0.8"/>
<line x1="498.50" y1="289.68" x2="499.70" y2="289.68" stroke="#333333" stroke-width="0.8"/>
<line x1="498.50" y1="276.66" x2="499.70" y2="276.66" stroke="#333333" stroke-width="0.8"/>
<line x1="498.50" y1="263.65" x2="499.70" y2="263.65" stroke="#333333" stroke-width="0.8"/>
<line x1="498.50" y1="250.64" x2="499.70" y2="250.64" stroke="#333333" stroke-width="0.8"/>
<line x1="498.50" y1="237.63" x2="499.70" y2="237.63" stroke="#333333" stroke-width="0.8"/>
<line x1="498.50" y1="224.62" x2="499.70" y2="224.62" stroke="#333333" stroke-width="0.8"/>
<line x1="498.50" y1="211.62" x2="499.70" y2="211.62" stroke="#333333" stroke-width="0.8"/>
<line x1="498.50" y1="198.60" x2="499.70" y2="198.60" stroke="#333333" stroke-width="0.8"/>
<line x1="498.50" y1="322.20" x2="498.50" y2="320.20" stroke="#333333" stroke-width="0.8"/>
<text x="498.00" y="330.60" font-size="7.4" text-anchor="middle" fill="#000">0</text>
<line x1="522.88" y1="322.20" x2="522.88" y2="320.20" stroke="#333333" stroke-width="0.8"/>
<text x="524.58" y="330.60" font-size="7.4" text-anchor="middle" fill="#000">200</text>
<line x1="547.26" y1="322.20" x2="547.26" y2="320.20" stroke="#333333" stroke-width="0.8"/>
<text x="548.96" y="330.60" font-size="7.4" text-anchor="middle" fill="#000">400</text>
<line x1="571.64" y1="322.20" x2="571.64" y2="320.20" stroke="#333333" stroke-width="0.8"/>
<text x="573.34" y="330.60" font-size="7.4" text-anchor="middle" fill="#000">600</text>
<line x1="596.02" y1="322.20" x2="596.02" y2="320.20" stroke="#333333" stroke-width="0.8"/>
<text x="597.72" y="330.60" font-size="7.4" text-anchor="middle" fill="#000">800</text>
<line x1="620.40" y1="322.20" x2="620.40" y2="320.20" stroke="#333333" stroke-width="0.8"/>
<text x="623.60" y="330.60" font-size="7.4" text-anchor="middle" fill="#000">1000</text>
<line x1="644.78" y1="322.20" x2="644.78" y2="320.20" stroke="#333333" stroke-width="0.8"/>
<text x="647.98" y="330.60" font-size="7.4" text-anchor="middle" fill="#000">1200</text>
<line x1="669.16" y1="322.20" x2="669.16" y2="320.20" stroke="#333333" stroke-width="0.8"/>
<text x="672.36" y="330.60" font-size="7.4" text-anchor="middle" fill="#000">1400</text>
<line x1="510.69" y1="322.20" x2="510.69" y2="321.00" stroke="#333333" stroke-width="0.8"/>
<line x1="535.07" y1="322.20" x2="535.07" y2="321.00" stroke="#333333" stroke-width="0.8"/>
<line x1="559.45" y1="322.20" x2="559.45" y2="321.00" stroke="#333333" stroke-width="0.8"/>
<line x1="583.83" y1="322.20" x2="583.83" y2="321.00" stroke="#333333" stroke-width="0.8"/>
<line x1="608.21" y1="322.20" x2="608.21" y2="321.00" stroke="#333333" stroke-width="0.8"/>
<line x1="632.59" y1="322.20" x2="632.59" y2="321.00" stroke="#333333" stroke-width="0.8"/>
<line x1="656.97" y1="322.20" x2="656.97" y2="321.00" stroke="#333333" stroke-width="0.8"/>
<text x="584.60" y="345.40" font-size="8.9" text-anchor="middle" fill="#000">Time (min)</text>
<text x="478.30" y="320.00" font-size="9.0" text-anchor="start" fill="#000" transform="rotate(-90 478.3 320.0)">Vapor Flux (L.m<tspan font-size="5" dy="-3.2">-2</tspan><tspan dy="3.2">.h</tspan><tspan font-size="5" dy="-3.2">-1</tspan><tspan dy="3.2">) @ 25 °C</tspan></text>
<text x="538.30" y="220.20" font-size="7.6" text-anchor="start" fill="#000">Seawater (Red sea)</text>
<text x="557.60" y="244.00" font-size="7.6" text-anchor="start" fill="#000">SWRO Brine</text>
</svg>
</body></html>
